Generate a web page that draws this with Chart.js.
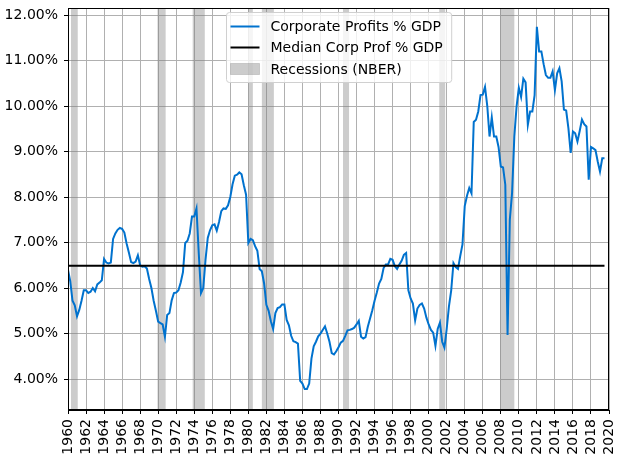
<!DOCTYPE html>
<html>
<head>
<meta charset="utf-8">
<script src="https://cdn.jsdelivr.net/npm/chart.js@4.4.1/dist/chart.umd.min.js"></script>
<style>
  body { margin: 0; background: #fff; }
  #wrap { width: 620px; height: 464px; }
</style>
</head>
<body>
<div id="wrap"><canvas id="profitChart"></canvas></div>
<script>
// quarterly data, first point 1960 Q1
var startYear = 1960;
var profitPct = [
  6.40, 6.15, 5.72, 5.62,   5.38, 5.52, 5.72, 5.95,   5.95, 5.89, 5.92, 6.00,
  5.93, 6.08, 6.12, 6.17,   6.64, 6.56, 6.54, 6.56,   7.08, 7.20, 7.28, 7.32,
  7.30, 7.22, 6.98, 6.78,   6.57, 6.55, 6.58, 6.72,   6.50, 6.47, 6.48, 6.43,
  6.20, 6.00, 5.72, 5.50,   // 1969
  5.26, 5.23, 5.20, 4.93,   5.41, 5.45, 5.73, 5.89,   5.90, 5.95, 6.12, 6.35,
  6.99, 7.04, 7.20, 7.57,   7.57, 7.75, 6.77, 5.89,   6.00, 6.62, 7.10, 7.27,
  7.38, 7.40, 7.26, 7.45,   7.69, 7.75, 7.74, 7.82,   8.00, 8.28, 8.47, 8.49,
  8.54, 8.50, 8.26, 8.05,   // 1979
  6.99, 7.08, 7.05, 6.92,   6.82, 6.42, 6.37, 6.10,   5.63, 5.50, 5.27, 5.10,
  5.45, 5.56, 5.58, 5.64,   5.64, 5.30, 5.18, 4.95,   4.83, 4.81, 4.78, 3.96,
  3.90, 3.78, 3.78, 3.90,   4.45, 4.72, 4.82, 4.94,   5.00, 5.08, 5.16, 5.00,
  4.82, 4.57, 4.54, 4.61,   // 1989
  4.70, 4.80, 4.84, 4.95,   5.07, 5.08, 5.10, 5.13,   5.20, 5.28, 4.93, 4.89,
  4.92, 5.15, 5.33, 5.51,   5.72, 5.90, 6.10, 6.20,   6.44, 6.52, 6.52, 6.64,
  6.62, 6.48, 6.42, 6.52,   6.60, 6.73, 6.77, 5.95,   5.77, 5.66, 5.29, 5.55,
  5.63, 5.66, 5.55, 5.35,   // 1999
  5.20, 5.08, 5.02, 4.73,   5.10, 5.24, 4.82, 4.69,   5.10, 5.60, 5.95, 6.55,
  6.46, 6.42, 6.70, 6.96,   7.80, 8.03, 8.20, 8.08,   9.65, 9.70, 9.88, 10.24,
  10.25, 10.42, 10.00, 9.33, 9.75, 9.33, 9.33, 9.10,  8.67, 8.65, 8.27, 4.97,
  7.50, 8.09, 9.33, 9.99,   // 2009
  10.40, 10.20, 10.60, 10.52, 9.59, 9.88, 9.88, 10.24, 11.74, 11.20, 11.20, 10.92,
  10.68, 10.62, 10.62, 10.76, 10.35, 10.72, 10.83, 10.54, 9.92, 9.90, 9.51, 8.97,
  9.44, 9.40, 9.22, 9.45,   9.70, 9.60, 9.55, 8.38,   9.10, 9.07, 9.03, 8.78,
  8.56, 8.85, 8.85          // 2019 Q1-Q3
];
var medianPct = 6.49;

// NBER recessions (decimal years)
var recessionStart = [1960.33, 1969.92, 1973.83, 1980.0, 1981.5, 1990.5, 2001.17, 2007.92];
var recessionEnd   = [1961.08, 1970.83, 1975.17, 1980.5, 1982.83, 1991.17, 2001.83, 2009.5];

var legendLabels = ["Corporate Profits % GDP", "Median Corp Prof % GDP", "Recessions (NBER)"];

var blue = '#0072ce';
var font = { family: 'DejaVu Sans', size: 14 };

var profitPoints = profitPct.map(function (v, i) {
    return { x: startYear + i / 4, y: v };
});
var lastX = profitPoints[profitPoints.length - 1].x;
var medianPoints = [{ x: startYear, y: medianPct }, { x: lastX, y: medianPct }];

var recessionPlugin = {
    id: 'recessions',
    beforeDatasetsDraw: function (chart) {
        var ctx = chart.ctx, xs = chart.scales.x, area = chart.chartArea;
        ctx.save();
        ctx.fillStyle = 'rgba(128,128,128,0.4)';
        for (var i = 0; i < recessionStart.length; i++) {
            var x0 = xs.getPixelForValue(recessionStart[i]);
            var x1 = xs.getPixelForValue(recessionEnd[i]);
            ctx.fillRect(x0, area.top, x1 - x0, area.bottom - area.top);
        }
        ctx.restore();
    },
    afterDraw: function (chart) {
        var ctx = chart.ctx, area = chart.chartArea;
        ctx.save();
        // spines
        ctx.strokeStyle = '#000';
        ctx.lineWidth = 1;
        ctx.strokeRect(Math.round(area.left) + 0.5, Math.round(area.top) + 0.5,
            Math.round(area.right - area.left) - 1, Math.round(area.bottom - area.top) - 1);

        // legend box, upper center
        ctx.font = font.size + 'px ' + font.family;
        var maxW = 0;
        legendLabels.forEach(function (t) { maxW = Math.max(maxW, ctx.measureText(t).width); });
        var w = 44 + maxW + 9;
        var h = 70;
        var left = Math.round((area.left + area.right) / 2 - w / 2) + 0.5;
        var top = area.top + 4.5;
        ctx.beginPath();
        ctx.roundRect(left, top, w, h, 3);
        ctx.fillStyle = 'rgba(255,255,255,0.8)';
        ctx.fill();
        ctx.strokeStyle = '#d0d0d0';
        ctx.stroke();

        var rowY = [top + 14, top + 35, top + 56.5];
        ctx.lineWidth = 2;
        ctx.strokeStyle = blue;
        ctx.beginPath(); ctx.moveTo(left + 4, rowY[0]); ctx.lineTo(left + 33, rowY[0]); ctx.stroke();
        ctx.strokeStyle = '#000';
        ctx.beginPath(); ctx.moveTo(left + 4, rowY[1]); ctx.lineTo(left + 33, rowY[1]); ctx.stroke();
        ctx.fillStyle = 'rgba(128,128,128,0.4)';
        ctx.fillRect(left + 4, rowY[2] - 5.5, 29, 11);
        ctx.lineWidth = 1;
        ctx.strokeStyle = 'rgba(128,128,128,0.3)';
        ctx.strokeRect(left + 4, rowY[2] - 5.5, 29, 11);

        ctx.fillStyle = '#000';
        ctx.textBaseline = 'middle';
        ctx.textAlign = 'left';
        for (var i = 0; i < legendLabels.length; i++) {
            ctx.fillText(legendLabels[i], left + 44, rowY[i] + 1);
        }
        ctx.restore();
    }
};

var canvas = document.getElementById("profitChart");
var chart = new Chart(canvas.getContext("2d"), {
    type: 'line',
    data: {
        datasets: [{
            label: legendLabels[0],
            data: profitPoints,
            borderColor: blue,
            borderWidth: 2,
            pointRadius: 0,
            tension: 0,
            order: 1
        }, {
            label: legendLabels[1],
            data: medianPoints,
            borderColor: '#000',
            borderWidth: 2,
            pointRadius: 0,
            order: 0
        }]
    },
    options: {
        responsive: true,
        maintainAspectRatio: false,
        animation: false,
        events: [],
        layout: { padding: { top: 8, right: 11, left: 0, bottom: 0 } },
        plugins: {
            legend: { display: false },
            tooltip: { enabled: false }
        },
        scales: {
            x: {
                type: 'linear',
                min: 1960,
                max: 2020,
                afterFit: function (s) {
                    s.height = 54;
                    s.paddingLeft = 0;
                    s.paddingRight = 0;
                },
                grid: { color: '#b0b0b0', lineWidth: 1, tickColor: '#000', tickLength: 4 },
                border: { color: '#000', width: 1 },
                ticks: {
                    stepSize: 2,
                    autoSkip: false,
                    minRotation: 90,
                    maxRotation: 90,
                    padding: 5,
                    color: '#000',
                    font: font,
                    callback: function (v) { return String(v); }
                }
            },
            y: {
                min: 3.32,
                max: 12.154,
                afterFit: function (s) {
                    s.width = 68;
                    s.paddingTop = 0;
                    s.paddingBottom = 0;
                },
                grid: { color: '#b0b0b0', lineWidth: 1, tickColor: '#000', tickLength: 4 },
                border: { color: '#000', width: 1 },
                ticks: {
                    stepSize: 1,
                    includeBounds: false,
                    padding: 6,
                    color: '#000',
                    font: font,
                    callback: function (v) { return v.toFixed(2) + '%'; }
                }
            }
        }
    },
    plugins: [recessionPlugin]
});
</script>
</body>
</html>
